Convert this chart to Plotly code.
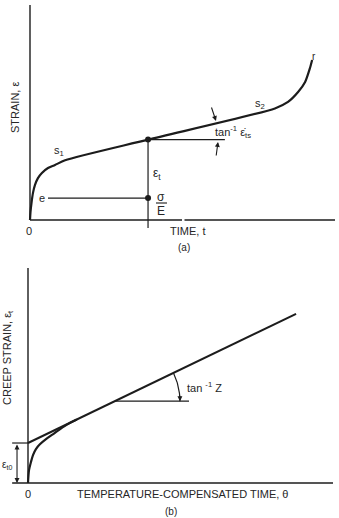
import numpy as np
import plotly.graph_objects as go

W, H = 339, 518
INK = "#1c1c1c"
FONT = "Liberation Sans"

# ---------------- Data ----------------
# (a) classical creep curve: strain vs time (arbitrary units)
time_a = [0, 0.016, 0.049, 0.098, 0.164, 0.26, 0.39, 0.59, 0.82, 1.15,
          3.87, 8.03, 8.46, 8.79, 9.02, 9.18, 9.25]
strain_a = [0, 0.37, 0.79, 1.26, 1.63, 1.95, 2.19, 2.42, 2.56, 2.78,
            3.74, 5.19, 5.49, 5.95, 6.42, 7.07, 7.44]
t_mark = 3.87          # time of the marked point
strain_mark = 3.74     # total strain at the marked point
elastic_strain = 1.02  # sigma / E
tan_ref_end = 6.39     # end of horizontal reference line
e_line_start = 0.59
axis_a_xmax = 10.0
axis_a_ymax = 10.0

# (b) creep strain vs temperature-compensated time
theta_curve = [0, 0.033, 0.098, 0.164, 0.26, 0.39, 0.59, 0.85, 1.25, 1.6]
creep_curve = [0, 0.60, 0.98, 1.30, 1.58, 1.80, 2.04, 2.30, 2.69, 2.95]
eps_t0 = 1.86
Z = 0.683
theta_line = [0, 8.79]
theta_h = [2.85, 5.28]
axis_b_xmax = 10.0
axis_b_ymax = 10.0
bracket_x = -0.36
bracket_tick_x = -0.52

# ---------------- Geometry (pixels) ----------------
SX, SY = 30.5, 21.5  # px per unit
ax_px = dict(x0=27, x1=336, y0=3, y1=234, ox=30, oy=220)
bx_px = dict(x0=5, x1=336, y0=265, y1=492, ox=28, oy=483)


def dom(p):
    xd = [p["x0"] / W, p["x1"] / W]
    yd = [1 - p["y1"] / H, 1 - p["y0"] / H]
    xr = [(p["x0"] - p["ox"]) / SX, (p["x1"] - p["ox"]) / SX]
    yr = [(p["oy"] - p["y1"]) / SY, (p["oy"] - p["y0"]) / SY]
    return xd, yd, xr, yr


xda, yda, xra, yra = dom(ax_px)
xdb, ydb, xrb, yrb = dom(bx_px)

fig = go.Figure()


def line(xs, ys, w=1.2, xa="x", ya="y", shape="linear", smooth=None):
    ln = dict(color=INK, width=w, shape=shape)
    if smooth is not None:
        ln["smoothing"] = smooth
    fig.add_trace(go.Scatter(x=xs, y=ys, mode="lines", line=ln,
                             xaxis=xa, yaxis=ya, hoverinfo="skip",
                             showlegend=False))


# ----- panel (a) -----
line([0, 0], [0, axis_a_ymax], 1.4)
line([0, (182 - 30) / SX], [0, 0], 1.4)
line([(184.5 - 30) / SX, axis_a_xmax], [0, 0], 1.4)
line(time_a, strain_a, 2.2, shape="spline", smooth=0.7)
line([t_mark, t_mark], [strain_mark, -0.37], 1.2)
line([t_mark, tan_ref_end], [strain_mark, strain_mark], 1.2)
line([e_line_start, t_mark], [elastic_strain, elastic_strain], 1.2)
fig.add_trace(go.Scatter(x=[t_mark, t_mark], y=[strain_mark, elastic_strain],
                         mode="markers", marker=dict(color=INK, size=6),
                         xaxis="x", yaxis="y", hoverinfo="skip",
                         showlegend=False))

# ----- panel (b) -----
line([0, 0], [0, axis_b_ymax], 1.4, "x2", "y2")
line([bracket_tick_x, axis_b_xmax], [0, 0], 1.4, "x2", "y2")
line([bracket_tick_x, 0], [eps_t0, eps_t0], 1.2, "x2", "y2")
line(theta_curve, creep_curve, 2.2, "x2", "y2", shape="spline", smooth=0.8)
line(theta_line, [eps_t0 + Z * t for t in theta_line], 2.0, "x2", "y2")
yh = eps_t0 + Z * theta_h[0]
line(theta_h, [yh, yh], 1.2, "x2", "y2")
# arc for tan^-1 Z (radius in pixels, centred on start of horizontal line)
R = 65
ang_top = np.arctan(Z * SY / SX)
angs = np.linspace(ang_top, 0.0, 30)
arc_x = theta_h[0] + R * np.cos(angs) / SX
arc_y = yh + R * np.sin(angs) / SY
line(list(arc_x), list(arc_y), 1.2, "x2", "y2")

# ---------------- Layout ----------------
hid = dict(visible=False, showgrid=False, zeroline=False, fixedrange=True)
fig.update_layout(
    width=W, height=H, margin=dict(l=0, r=0, t=0, b=0),
    paper_bgcolor="white", plot_bgcolor="white",
    xaxis=dict(domain=xda, range=xra, **hid),
    yaxis=dict(domain=yda, range=yra, **hid),
    xaxis2=dict(domain=xdb, range=xrb, anchor="y2", **hid),
    yaxis2=dict(domain=ydb, range=yrb, anchor="x2", **hid),
    showlegend=False,
)

ann = []


def txt(px, py, s, size=11, angle=0, xanchor="center"):
    ann.append(dict(x=px / W, y=1 - py / H, xref="paper", yref="paper",
                    text=s, showarrow=False, textangle=angle,
                    xanchor=xanchor, yanchor="middle",
                    font=dict(family=FONT, size=size, color="#262626")))


def arrow(xh, yh_, axp, ayp, xr="x", yr="y", size=0.9):
    ann.append(dict(x=xh, y=yh_, xref=xr, yref=yr, ax=axp, ay=ayp,
                    text="", showarrow=True, arrowhead=2, arrowsize=size,
                    arrowwidth=1.1, arrowcolor=INK))


# panel (a) text
txt(15, 108, "STRAIN, ε", 11, -90)
txt(29, 231, "0", 11)
txt(187, 231, "TIME, t", 11)
txt(184, 248, "(a)", 10)
txt(41.5, 198, "e", 11)
txt(59, 151, "s<sub>1</sub>", 11)
txt(260, 104, "s<sub>2</sub>", 11)
txt(314, 56, "r", 10)
txt(157, 174, "ε<sub>t</sub>", 12)
txt(161, 197, "σ", 12)
txt(161, 211, "E", 12)
txt(233, 132, "tan<sup>-1</sup> ε̇<sub>ts</sub>", 11)
fig.add_shape(type="line", x0=156 / W, x1=167 / W, y0=1 - 203 / H,
              y1=1 - 203 / H, xref="paper", yref="paper",
              line=dict(color=INK, width=1.1))
arrow((216 - 30) / SX, (220 - 121) / SY, -5, -15)
arrow((218 - 30) / SX, (220 - 142) / SY, -2, 15)

# panel (b) text
txt(8, 358, "CREEP STRAIN, ε<sub>t</sub>", 11, -90)
txt(28, 494, "0", 11)
txt(182, 494, "TEMPERATURE-COMPENSATED TIME, θ", 11)
txt(171, 511, "(b)", 10)
txt(0, 465, "ε<sub>t0</sub>", 10, 0, "left")
txt(204, 387, "tan <sup>-1</sup> Z", 11)
arrow(arc_x[-1], arc_y[-1], 0, -7, "x2", "y2")
ann.append(dict(x=bracket_x, y=0, xref="x2", yref="y2",
                ax=bracket_x, ay=eps_t0, axref="x2", ayref="y2",
                text="", showarrow=True, arrowhead=2, startarrowhead=2,
                arrowside="end+start", arrowsize=0.9, startarrowsize=0.9,
                arrowwidth=1.1, arrowcolor=INK))

fig.update_layout(annotations=ann)
fig.write_html("out.html")
